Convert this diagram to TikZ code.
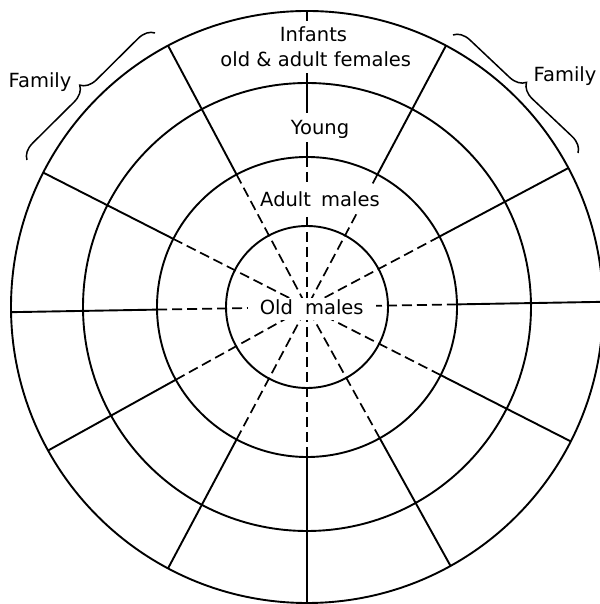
\documentclass[tikz,border=0pt]{standalone}
\usepackage{fontspec}
\setmainfont{DejaVu Sans}
\usetikzlibrary{calc,decorations.pathreplacing}
\begin{document}
\begin{tikzpicture}[x=1pt,y=1pt,
  ring/.style={line width=1.9pt},
  spoke/.style={line width=1.9pt},
  dspoke/.style={line width=1.7pt,dash pattern=on 10pt off 5pt},
  lbl/.style={font=\fontsize{19.5}{22}\selectfont, fill=white, anchor=base,
              text height=14pt, text depth=0pt, inner xsep=3pt},
  fam/.style={font=\fontsize{19.5}{22}\selectfont, anchor=base, inner sep=0pt},
  bracestyle/.style={line width=1.5pt, decorate,
                     decoration={brace, amplitude=16pt}}
]
\useasboundingbox (0,0) rectangle (599,604);
\fill[white] (0,0) rectangle (599,604);
\coordinate (C) at (307,297);

% spokes: solid outer part, dashed inner part
\foreach \a in {1,28,62,90,118,153,181,209,242,270,299,333}{
  \draw[spoke] ($(C)+(\a:150)$) -- ($(C)+(\a:296)$);
  \draw[dspoke] ($(C)+(\a:150)$) -- (C);
}

% rings
\draw[ring] (C) circle[radius=81pt];
\draw[ring] (C) circle[radius=150pt];
\draw[ring] (C) circle[radius=224pt];
\draw[ring] (C) circle[radius=296pt];

% labels (white boxes interrupt the spokes)
\node[lbl, inner ysep=7pt] (inf) at (313.5,562.3) {Infants};
\node[lbl, inner ysep=6.5pt] (oaf) at (315.8,537.5) {old \& adult females};
\node[lbl, inner ysep=7.5pt] (young) at (320,469) {Young};
\node[lbl, inner ysep=7pt, inner xsep=4pt] (am) at (320,397.3) {Adult\hspace{4pt} males};
\node[lbl, inner ysep=3pt, inner xsep=12pt, text depth=2pt] (om) at (311.7,289) {Old\hspace{6pt} males};

% family braces
\coordinate (bl1) at (27,444);
\coordinate (bl2) at (155,571);
\draw[bracestyle] (bl1) -- (bl2);
\coordinate (br1) at (453,569);
\coordinate (br2) at (578,451);
\draw[bracestyle] (br1) -- (br2);
\node[fam] (famL) at (40,516) {Family};
\node[fam] (famR) at (565,522.3) {Family};
\end{tikzpicture}
\end{document}
